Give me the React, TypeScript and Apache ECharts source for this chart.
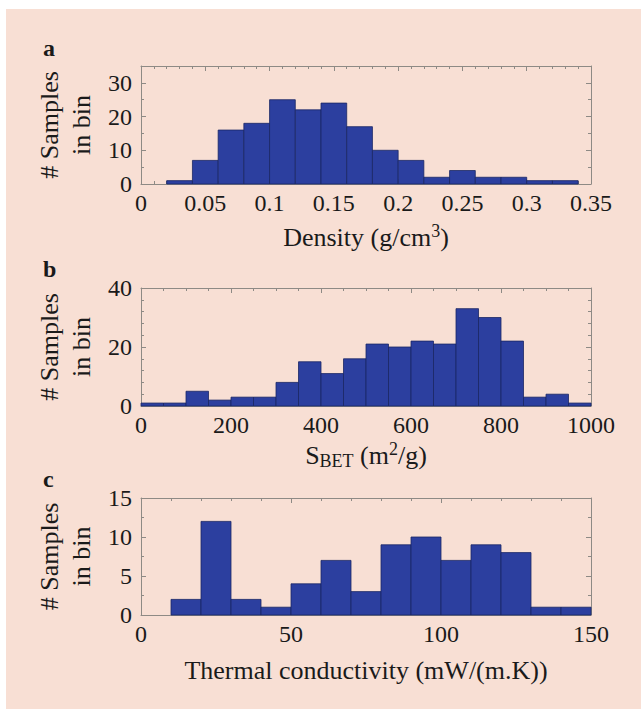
import React, { useEffect, useRef } from "react";
import * as echarts from "echarts";

// Panel a: density histogram (bin edges, counts)
const densityEdges = [0.02, 0.04, 0.06, 0.08, 0.1, 0.12, 0.14, 0.16, 0.18, 0.2, 0.22, 0.24, 0.26, 0.28, 0.3, 0.32, 0.34];
const densityCounts = [1, 7, 16, 18, 25, 22, 24, 17, 10, 7, 2, 4, 2, 2, 1, 1];
const densityTicks = [0, 0.05, 0.1, 0.15, 0.2, 0.25, 0.3, 0.35];

// Panel b: BET surface area histogram
const betEdges = [0, 50, 100, 150, 200, 250, 300, 350, 400, 450, 500, 550, 600, 650, 700, 750, 800, 850, 900, 950, 1000];
const betCounts = [1, 1, 5, 2, 3, 3, 8, 15, 11, 16, 21, 20, 22, 21, 33, 30, 22, 3, 4, 1];
const betTicks = [0, 200, 400, 600, 800, 1000];

// Panel c: thermal conductivity histogram
const tcEdges = [10, 20, 30, 40, 50, 60, 70, 80, 90, 100, 110, 120, 130, 140, 150];
const tcCounts = [2, 12, 2, 1, 4, 7, 3, 9, 10, 7, 9, 8, 1, 1];
const tcTicks = [0, 50, 100, 150];

const FONT = "'Liberation Serif', 'Times New Roman', serif";
const AXIS_GRAY = "#8e8a85";
const TEXT = "#1a1a1a";
const BAR = "#2c3f9f";
const BAR_EDGE = "#1b2764";
const BG = "#f8dfd4";

function toBins(edges: number[], counts: number[]) {
  return counts.map((c, i) => [edges[i], edges[i + 1], c]);
}

function renderBar(params: any, api: any) {
  const tl = api.coord([api.value(0), api.value(2)]);
  const br = api.coord([api.value(1), 0]);
  return {
    type: "rect",
    shape: { x: tl[0], y: tl[1], width: br[0] - tl[0], height: br[1] - tl[1] },
    style: { fill: BAR, stroke: BAR_EDGE, lineWidth: 0.8 },
  };
}

const baseRich = {
  n: { fontFamily: FONT, fontSize: 26, color: TEXT, lineHeight: 30 },
  sup: { fontFamily: FONT, fontSize: 18, color: TEXT, verticalAlign: "top", lineHeight: 30, padding: [0, 0, 6, 0] },
  sub: { fontFamily: FONT, fontSize: 18, color: TEXT, verticalAlign: "bottom", lineHeight: 30, padding: [12, 0, 0, 0] },
};

function xAxes(gridIndex: number, min: number, max: number, interval: number, minorSplit: number, name: string, nameGap: number) {
  const common = {
    gridIndex,
    type: "value",
    min,
    max,
    interval,
    splitLine: { show: false },
    axisLine: { show: true, onZero: false, lineStyle: { color: AXIS_GRAY, width: 1 } },
    axisTick: { show: true, inside: true, length: 5, lineStyle: { color: AXIS_GRAY } },
    minorTick: { show: true, splitNumber: minorSplit, length: 3, lineStyle: { color: AXIS_GRAY } },
    minorSplitLine: { show: false },
  };
  return [
    {
      ...common,
      position: "bottom",
      name,
      nameLocation: "middle",
      nameGap,
      nameTextStyle: { fontFamily: FONT, fontSize: 26, color: TEXT, rich: baseRich },
      axisLabel: {
        show: true,
        margin: 7,
        fontFamily: FONT,
        fontSize: 24,
        color: TEXT,
        formatter: (v: number) => String(parseFloat(v.toFixed(4))),
      },
    },
    { ...common, position: "top", axisLabel: { show: false } },
  ];
}

function yAxes(gridIndex: number, max: number, interval: number, minorSplit: number) {
  const common = {
    gridIndex,
    type: "value",
    min: 0,
    max,
    interval,
    splitLine: { show: false },
    axisLine: { show: true, onZero: false, lineStyle: { color: AXIS_GRAY, width: 1 } },
    axisTick: { show: true, inside: true, length: 5, lineStyle: { color: AXIS_GRAY } },
    minorTick: { show: true, splitNumber: minorSplit, length: 3, lineStyle: { color: AXIS_GRAY } },
    minorSplitLine: { show: false },
  };
  return [
    {
      ...common,
      position: "left",
      name: "# Samples\nin bin",
      nameLocation: "middle",
      nameRotate: 90,
      nameGap: 44,
      nameTextStyle: { fontFamily: FONT, fontSize: 26, color: TEXT, lineHeight: 32, align: "center" },
      axisLabel: { show: true, margin: 9, fontFamily: FONT, fontSize: 24, color: TEXT },
    },
    { ...common, position: "right", axisLabel: { show: false } },
  ];
}

export default function App() {
  const ref = useRef<HTMLDivElement>(null);

  useEffect(() => {
    if (!ref.current) return;
    const chart = echarts.init(ref.current, null, { renderer: "svg" });
    const grids = [
      { left: 141, top: 66, width: 450, height: 118 },
      { left: 141, top: 288, width: 450, height: 118 },
      { left: 141, top: 498, width: 450, height: 117 },
    ];
    const option: any = {
      animation: false,
      backgroundColor: "#ffffff",
      graphic: [
        { type: "rect", z: -10, silent: true, shape: { x: 6, y: 9, width: 635, height: 700 }, style: { fill: BG } },
        { type: "text", left: 43, top: 36, style: { text: "a", font: `bold 24px ${FONT}`, fill: TEXT } },
        { type: "text", left: 43, top: 257, style: { text: "b", font: `bold 24px ${FONT}`, fill: TEXT } },
        { type: "text", left: 43, top: 467, style: { text: "c", font: `bold 24px ${FONT}`, fill: TEXT } },
      ],
      grid: grids.map((g) => ({ ...g, containLabel: false })),
      xAxis: [
        ...xAxes(0, 0, 0.35, 0.05, 5, "{n|Density (g/cm}{sup|3}{n|)}", 38),
        ...xAxes(1, 0, 1000, 200, 4, "{n|S}{sub|BET}{n| (m}{sup|2}{n|/g)}", 34),
        ...xAxes(2, 0, 150, 50, 5, "{n|Thermal conductivity (mW/(m.K))}", 40),
      ],
      yAxis: [...yAxes(0, 35, 10, 2), ...yAxes(1, 40, 20, 5), ...yAxes(2, 15, 5, 2)],
      series: [
        { type: "custom", xAxisIndex: 0, yAxisIndex: 0, renderItem: renderBar, encode: { x: [0, 1], y: 2 }, data: toBins(densityEdges, densityCounts) },
        { type: "custom", xAxisIndex: 2, yAxisIndex: 2, renderItem: renderBar, encode: { x: [0, 1], y: 2 }, data: toBins(betEdges, betCounts) },
        { type: "custom", xAxisIndex: 4, yAxisIndex: 4, renderItem: renderBar, encode: { x: [0, 1], y: 2 }, data: toBins(tcEdges, tcCounts) },
      ],
    };
    chart.setOption(option);
    return () => chart.dispose();
  }, []);

  return (
    <div
      ref={ref}
      style={{ position: "fixed", left: 0, top: 0, width: 641, height: 709 }}
    />
  );
}
